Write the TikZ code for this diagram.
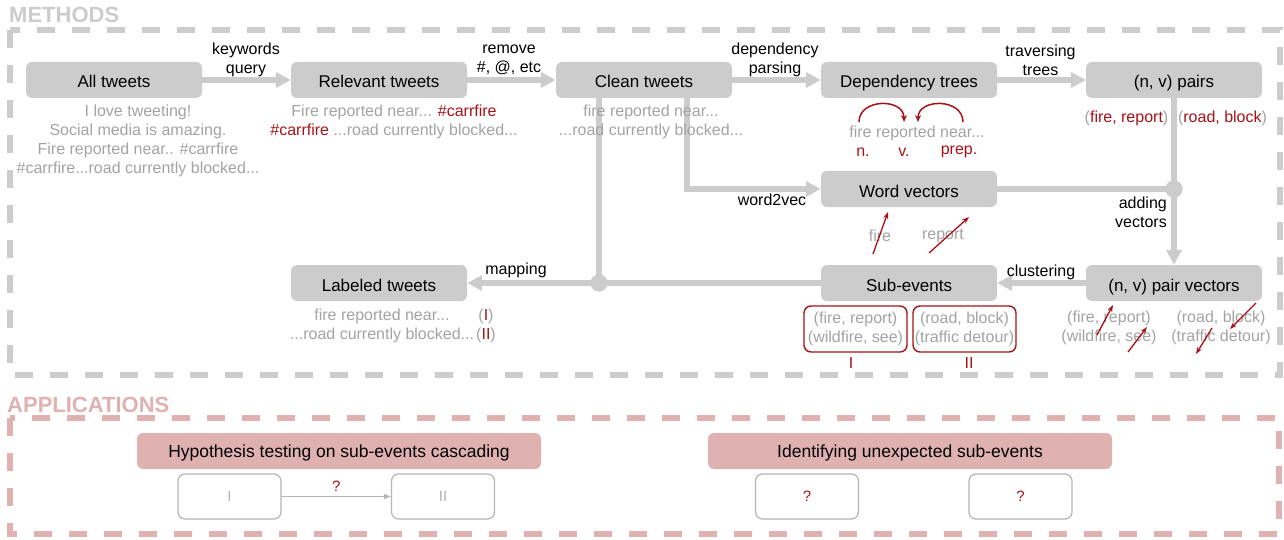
\documentclass[tikz,border=0pt]{standalone}
\usepackage{fontspec}
\setmainfont{Liberation Sans}
\usetikzlibrary{arrows.meta}
\definecolor{boxgray}{RGB}{204,204,204}
\definecolor{txtgray}{RGB}{163,163,163}
\definecolor{dred}{RGB}{168,18,22}
\definecolor{appink}{RGB}{224,177,177}
\definecolor{ltgray}{RGB}{180,180,180}
\tikzset{
 stage/.style={fill=boxgray, rounded corners=6pt, minimum width=176pt, minimum height=36pt, inner sep=0pt, text height=16.5pt, text depth=0.5pt, font=\fontsize{17}{20}\selectfont},
 conn/.style={draw=boxgray, line width=6.5pt, -{Triangle[length=15pt,width=15pt]}},
 pipe/.style={draw=boxgray, line width=6.5pt},
 elabel/.style={font=\fontsize{16}{19}\selectfont, align=center, inner sep=0pt},
 sample/.style={text=txtgray, font=\fontsize{16}{19}\selectfont, align=center, inner sep=0pt},
 postag/.style={text=dred, font=\fontsize{16}{19}\selectfont, inner sep=0pt},
 cluster/.style={draw=dred, line width=1.4pt, rounded corners=7pt, minimum width=103pt, minimum height=46pt, inner sep=0pt, text=txtgray, font=\fontsize{16}{19}\selectfont, align=center},
 vec/.style={draw=dred, line width=1.3pt, -{Stealth[length=7pt,width=5pt]}},
 dep/.style={draw=dred, line width=1.5pt, -{Stealth[length=7pt,width=6pt]}},
 app/.style={fill=appink, rounded corners=6pt, minimum width=404pt, minimum height=36pt, inner sep=0pt, text height=13pt, text depth=1pt, font=\fontsize{17.5}{20}\selectfont},
 slot/.style={draw=ltgray, fill=white, line width=1.2pt, rounded corners=7pt, minimum width=103pt, minimum height=45pt, inner sep=0pt, font=\fontsize{15}{18}\selectfont},
 jdot/.style={circle, fill=boxgray, minimum size=17pt, inner sep=0pt},
 frame/.style={line width=6pt, dash pattern=on 18pt off 17pt},
 title/.style={anchor=base west, inner sep=0pt, font=\fontsize{22}{24}\selectfont\bfseries},
 thinarrow/.style={draw=ltgray, line width=1.2pt, -{Triangle[length=7pt,width=5pt]}},
}
\begin{document}
\begin{tikzpicture}[x=1pt,y=-1pt]
\useasboundingbox (0,0) rectangle (1284,540);
% frames
\draw[frame, draw=boxgray] (10,30) rectangle (1280,375);
\draw[frame, draw=appink] (10,418) rectangle (1279,534);
\node[title, text=boxgray] (tm) at (9,23) {METHODS};
\node[title, text=appink] (ta) at (7,412) {APPLICATIONS};
% stages
\node[stage] (all) at (114,80) {All tweets};
\node[stage] (rel) at (379,80) {Relevant tweets};
\node[stage] (clean) at (644,80) {Clean tweets};
\node[stage] (dept) at (909,80) {Dependency trees};
\node[stage] (pairs) at (1174,80) {(n, v) pairs};
\node[stage] (wv) at (909,189) {Word vectors};
\node[stage] (sub) at (909,283) {Sub-events};
\node[stage] (pv) at (1174,283) {(n, v) pair vectors};
\node[stage] (lab) at (379,283) {Labeled tweets};
\node[jdot] (j1) at (599,283) {};
\node[jdot] (j2) at (1174,189) {};
% connectors
\draw[conn] (all) -- (rel);
\draw[conn] (rel) -- (clean);
\draw[conn] (clean) -- (dept);
\draw[conn] (dept) -- (pairs);
\draw[conn] ([xshift=43pt]clean.south) |- (wv.west);
\draw[pipe] ([xshift=-45pt]clean.south) -- (j1.center);
\draw[pipe] (sub.west) -- (j1.center);
\draw[conn] (j1.center) -- (lab.east);
\draw[pipe] (pairs.south) -- (j2.center);
\draw[pipe] (wv.east) -- (j2.center);
\draw[conn] (j2.center) -- (pv.north);
\draw[conn] (pv) -- (sub);
\node[jdot] (j1b) at (j1) {};
\node[jdot] (j2b) at (j2) {};
% edge labels
\node[elabel] (l1) at (246,60) {keywords\\query};
\node[elabel] (l2) at (509,60) {remove\\\#, @, etc};
\node[elabel] (l3) at (775,60) {dependency\\parsing};
\node[elabel] (l4) at (1040.5,60) {traversing\\trees};
\node[elabel] (l5) at (772,200) {word2vec};
\node[elabel] (l6) at (516,270) {mapping};
\node[elabel] (l7) at (1041,272) {clustering};
\node[elabel, anchor=east, align=right] (l8) at (1167,212) {adding\\vectors};
% samples
\node[sample] (s1) at (138,140.5) {I love tweeting!\\Social media is amazing.\\Fire reported near.. \#carrfire\\\#carrfire...road currently blocked...};
\node[sample] (s2) at (394,121.5) {Fire reported near... \textcolor{dred}{\#carrfire}\\\textcolor{dred}{\#carrfire} ...road currently blocked...};
\node[sample] (s3) at (651,121.5) {fire reported near...\\...road currently blocked...};
\node[sample] (s4) at (917,133) {fire reported near...};
\node[postag] (p1) at (863,152) {n.};
\node[postag] (p2) at (904,152) {v.};
\node[postag] (p3) at (959,152) {prep.};
\draw[dep] (859,122) .. controls (859,98) and (904,98) .. (904,122);
\draw[dep] (963,122) .. controls (963,98) and (918,98) .. (918,122);
\node[sample] (s5) at (1126.5,118) {(\textcolor{dred}{fire, report})};
\node[sample] (s6) at (1222.5,118) {(\textcolor{dred}{road, block})};
\node[sample] (s7) at (880,236) {fire};
\node[sample] (s8) at (943,236) {report};
\draw[vec] (873,254) -- (888,212);
\draw[vec] (929,253) -- (969,217);
\node[cluster] (c1) at (855.5,329) {(fire, report)\\(wildfire, see)};
\node[cluster] (c2) at (964.5,329) {(road, block)\\(traffic detour)};
\node[postag] (r1) at (851,363) {I};
\node[postag] (r2) at (969,363) {II};
\node[sample] (s9) at (1109,327.5) {(fire, report)\\(wildfire, see)};
\node[sample] (s10) at (1221,327.5) {(road, block)\\(traffic detour)};
\draw[vec] (1097,335) -- (1113,305);
\draw[vec] (1128,352) -- (1147,327);
\draw[vec] (1256,303) -- (1230,329);
\draw[vec] (1212,328) -- (1196,354);
\node[sample] (s11) at (382,325.5) {fire reported near...\\...road currently blocked...};
\node[sample] (s12) at (486,325.5) {(\textcolor{dred}{I})\\(\textcolor{dred}{II})};
% applications
\node[app] (hyp) at (339,451) {Hypothesis testing on sub-events cascading};
\node[app] (idf) at (910,451) {Identifying unexpected sub-events};
\node[slot, text=ltgray] (sI) at (229.5,496.5) {I};
\node[slot, text=ltgray] (sII) at (443,496.5) {II};
\node[slot, text=dred] (q1) at (807,496.5) {?};
\node[slot, text=dred] (q2) at (1020.5,496.5) {?};
\draw[thinarrow] (sI) -- (sII) node[midway, above=4pt, inner sep=0pt, text=dred, font=\fontsize{15}{18}\selectfont] (qm) {?};
\end{tikzpicture}
\end{document}
